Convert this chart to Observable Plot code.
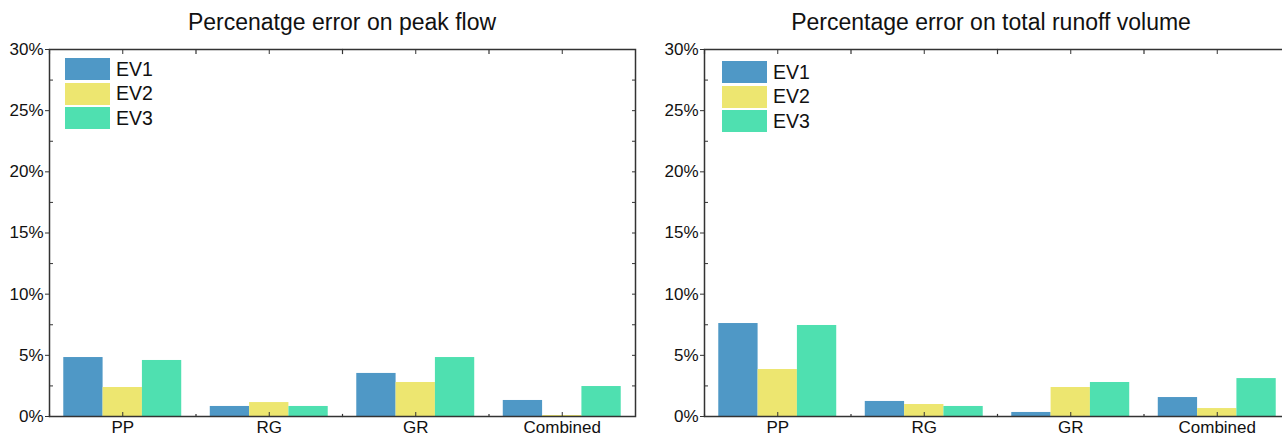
<!DOCTYPE html>
<html><head><meta charset="utf-8">
<script src="https://cdn.jsdelivr.net/npm/d3@7"></script>
<script src="https://cdn.jsdelivr.net/npm/@observablehq/plot@0.6"></script>
<style>
body{margin:0;background:#fff;font-family:"Liberation Sans",Arial,sans-serif;}
#wrap{position:relative;width:1282px;height:437px;overflow:hidden;background:#fff;}
.panel{position:absolute;top:0;width:655px;height:437px;}
.panel svg{display:block;}
.title{position:absolute;top:11px;font-size:23px;line-height:23px;color:#111;text-align:center;white-space:nowrap;}
.legend{position:absolute;font-size:19.5px;color:#111;}
.legend .row{display:flex;align-items:center;height:24.5px;}
.legend .sw{width:45px;height:22px;margin-right:6px;}
</style></head>
<body><div id="wrap"></div>
<script>
const categories = ["PP", "RG", "GR", "Combined"];
const series = ["EV1", "EV2", "EV3"];
const colors = ["#4f98c6", "#ede670", "#4fe0b0"];

// Percentage error on peak flow
const peakEV1 = [4.82, 0.82, 3.52, 1.31];
const peakEV2 = [2.37, 1.14, 2.78, 0.08];
const peakEV3 = [4.58, 0.82, 4.82, 2.45];

// Percentage error on total runoff volume
const volEV1 = [7.60, 1.23, 0.33, 1.55];
const volEV2 = [3.84, 0.98, 2.37, 0.65];
const volEV3 = [7.44, 0.82, 2.78, 3.10];

const yTicks = [0, 5, 10, 15, 20, 25, 30];
const yMinor = [2.5, 7.5, 12.5, 17.5, 22.5, 27.5];

const titles = ["Percenatge error on peak flow", "Percentage error on total runoff volume"];

function rowsFrom(arrs) {
  const rows = [];
  categories.forEach((c, i) => {
    series.forEach((s, j) => rows.push({category: c, series: s, value: arrs[j][i]}));
  });
  return rows;
}

const AX = "#333";

function makePlot(rows) {
  return Plot.plot({
    width: 655, height: 437,
    marginLeft: 49, marginRight: 20, marginTop: 49, marginBottom: 21,
    style: {fontFamily: "'Liberation Sans', Arial, sans-serif", fontSize: "17px", color: "#111", background: "transparent", overflow: "visible"},
    fx: {domain: categories, padding: 0, label: null, round: false},
    x: {domain: series, paddingInner: 0, paddingOuter: 0.363, axis: null, round: false},
    y: {domain: [0, 30], label: null},
    color: {domain: series, range: colors},
    marks: [
      Plot.barY(rows, {fx: "category", x: "series", y: "value", fill: "series"}),
      Plot.axisY({anchor: "left", ticks: yTicks, tickSize: 4, tickPadding: 2, tickFormat: d => d + "%", label: null, stroke: AX, fontSize: 17}),
      Plot.axisY({anchor: "left", ticks: yMinor, tickSize: -4, tickFormat: () => "", label: null, stroke: AX}),
      Plot.axisY({anchor: "right", ticks: yTicks.concat(yMinor), tickSize: -4, tickFormat: () => "", label: null, stroke: AX}),
      Plot.axisFx({anchor: "top", tickSize: -4, tickFormat: () => "", label: null, stroke: AX}),
      Plot.axisFx({anchor: "bottom", tickSize: -4, tickFormat: () => "", label: null, stroke: AX}),
      Plot.axisFx({anchor: "bottom", tickSize: 0, tickPadding: 4, label: null, fontSize: 17}),
      Plot.frame({anchor: "left", insetTop: 365, stroke: AX, strokeWidth: 1.2}),
      Plot.frame({anchor: "left", insetBottom: 363, stroke: AX, strokeWidth: 1.2}),
      Plot.frame({facet: "super", stroke: AX, strokeWidth: 1.5})
    ]
  });
}

const wrap = document.getElementById("wrap");
const datasets = [[peakEV1, peakEV2, peakEV3], [volEV1, volEV2, volEV3]];
const lefts = [0, 655];
const titleShift = [0, -6];
const legendPos = [{left: 65, top: 57}, {left: 67, top: 60}];

datasets.forEach((arrs, k) => {
  const panel = document.createElement("div");
  panel.className = "panel";
  panel.style.left = lefts[k] + "px";
  panel.appendChild(makePlot(rowsFrom(arrs)));

  const t = document.createElement("div");
  t.className = "title";
  t.textContent = titles[k];
  t.style.left = (49 + titleShift[k]) + "px";
  t.style.width = "586px";
  panel.appendChild(t);

  const lg = document.createElement("div");
  lg.className = "legend";
  lg.style.left = legendPos[k].left + "px";
  lg.style.top = legendPos[k].top + "px";
  series.forEach((s, j) => {
    const r = document.createElement("div");
    r.className = "row";
    const sw = document.createElement("div");
    sw.className = "sw";
    sw.style.background = colors[j];
    const lab = document.createElement("span");
    lab.textContent = s;
    r.appendChild(sw); r.appendChild(lab);
    lg.appendChild(r);
  });
  panel.appendChild(lg);
  wrap.appendChild(panel);
});
</script>
</body></html>
